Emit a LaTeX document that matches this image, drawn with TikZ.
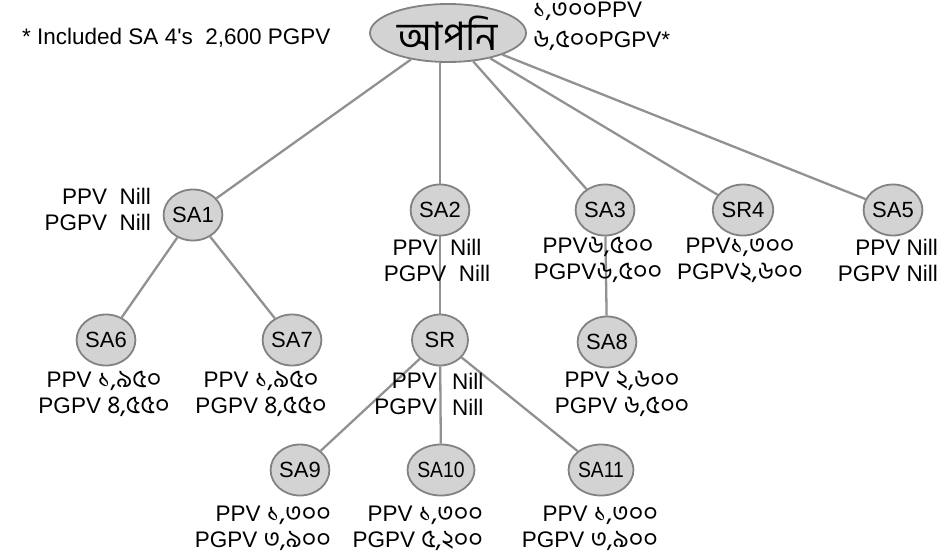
\documentclass[tikz,border=0pt]{standalone}
\usepackage{fontspec}
\setmainfont{Liberation Sans}
\newfontfamily\bn[Script=Bengali, Scale=1.12]{Hind Siliguri}
\usetikzlibrary{shapes.geometric}
\definecolor{linegray}{RGB}{145,145,145}
\definecolor{bordergray}{RGB}{130,130,130}
\definecolor{fillgray}{RGB}{211,211,211}
\begin{document}
\begin{tikzpicture}[x=1pt,y=-1pt,
  conn/.style={draw=linegray, line width=2.3pt},
  person/.style={ellipse, draw=bordergray, fill=fillgray, line width=1.8pt,
    minimum width=56pt, minimum height=51pt, inner sep=0pt,
    font=\fontsize{22}{26}\selectfont},
  lbl/.style={font=\fontsize{22.5}{26}\selectfont, inner sep=0pt, align=center},
  lblr/.style={lbl, align=right},
  lbll/.style={lbl, align=left}]
\useasboundingbox (0,0) rectangle (944,558);

% nodes
\node[person, minimum width=156pt, minimum height=58pt, font=\fontsize{35}{38}\selectfont\bn] (root) at (448,33) {আপনি};
\node[person] (SA1) at (193,215) {SA1};
\node[person] (SA2) at (440,210) {SA2};
\node[person] (SA3) at (605,210) {SA3};
\node[person] (SR4) at (743,210) {SR4};
\node[person] (SA5) at (893,210) {SA5};
\node[person] (SA6) at (106,340) {SA6};
\node[person] (SA7) at (292,340) {SA7};
\node[person] (SR)  at (440,340) {SR};
\node[person] (SA8) at (607,342) {SA8};
\node[person] (SA9) at (300,470) {SA9};
\node[person] (SA10) at (441,470) {\scalebox{0.88}[1]{SA10}};
\node[person] (SA11) at (601,470) {\scalebox{0.88}[1]{SA11}};

% connectors
\draw[conn] (root) -- (SA1);
\draw[conn] (SA2 |- root.south) -- (SA2);
\draw[conn] (root) -- (SA3);
\draw[conn] (root) -- (SR4);
\draw[conn] (root) -- (SA5);
\draw[conn] (SA1) -- (SA6);
\draw[conn] (SA1) -- (SA7);
\draw[conn] (SA2) -- (SR);
\draw[conn] (SA3) -- (SA8);
\draw[conn] (SR) -- (SA9);
\draw[conn] (SR) -- (SA10);
\draw[conn] (SR) -- (SA11);

% labels
\node[lbll, anchor=west] (note) at (22,38) {* Included SA 4\textquotesingle s\ \ 2,600 PGPV};
\node[lbll, anchor=west] (tot1) at (533,11) {{\bn ১,৩০০}PPV};
\node[lbll, anchor=west] (tot2) at (533,41) {{\bn ৬,৫০০}PGPV*};

\node[lblr, anchor=east] (l1) at (151,209) {PPV\ \ Nill\\PGPV\ \ Nill};
\node[lbl] (l2) at (437,260) {PPV\ \ Nill\\PGPV\ \ Nill};
\node[lbl] (l3) at (598,260) {PPV{\bn ৬,৫০০}\\PGPV{\bn ৬,৫০০}};
\node[lbl] (l4) at (740,260) {PPV{\bn ১,৩০০}\\PGPV{\bn ২,৬০০}};
\node[lblr, anchor=east] (l5) at (938,260) {PPV Nill\\PGPV Nill};
\node[lbl] (l6) at (104,394) {PPV {\bn ১,৯৫০}\\PGPV {\bn ৪,৫৫০}};
\node[lbl] (l7) at (261,394) {PPV {\bn ১,৯৫০}\\PGPV {\bn ৪,৫৫০}};
\node[lblr, anchor=east] (lsra) at (437,394) {PPV\\PGPV};
\node[lbll, anchor=west] (lsrb) at (452,394) {Nill\\Nill};
\node[lbl] (l8) at (622,394) {PPV {\bn ২,৬০০}\\PGPV {\bn ৬,৫০০}};
\node[lblr, anchor=east] (l9) at (331,528) {PPV {\bn ১,৩০০}\\PGPV {\bn ৩,৯০০}};
\node[lblr, anchor=east] (l10) at (483,528) {PPV {\bn ১,৩০০}\\PGPV {\bn ৫,২০০}};
\node[lblr, anchor=east] (l11) at (658,528) {PPV {\bn ১,৩০০}\\PGPV {\bn ৩,৯০০}};
\end{tikzpicture}
\end{document}
